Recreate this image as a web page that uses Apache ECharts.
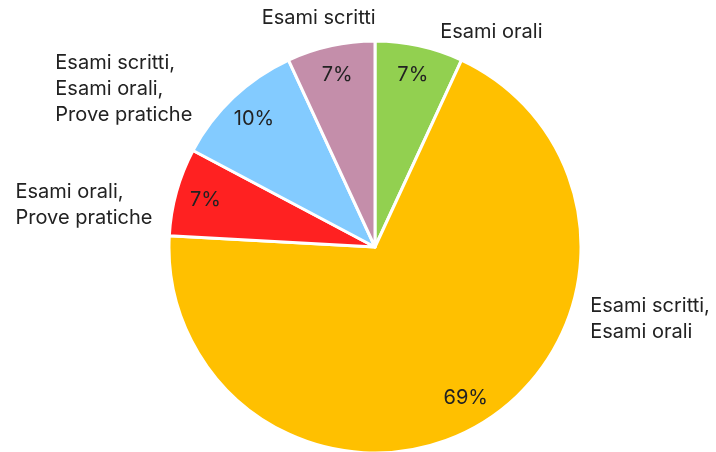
<!DOCTYPE html>
<html>
<head>
<meta charset="utf-8">
<script src="https://cdn.jsdelivr.net/npm/echarts@6/dist/echarts.min.js"></script>
<style>
  html, body { margin: 0; padding: 0; background: #fff; }
  #chart { width: 716px; height: 452px; }
</style>
</head>
<body>
<div id="chart"></div>
<script>
// risposte (conteggi) per modalità d'esame
const categories = [
  "Esami orali",
  "Esami scritti,\nEsami orali",
  "Esami orali,\nProve pratiche",
  "Esami scritti,\nEsami orali,\nProve pratiche",
  "Esami scritti"
];
const counts = [2, 20, 2, 3, 2];
const colors = ["#92D050", "#FFC000", "#FF2121", "#83CBFF", "#C48EAA"];

// spostamento etichette rispetto al bordo della fetta [dx, dy]
const labelOffsets = [[21, -14], [109, -105], [-161, 13], [-178, -8], [-69, -28]];

const center = [375, 247];
const R = 206;
const fontFam = "Inter, 'Noto Sans', sans-serif";

const pieData = categories.map((name, i) => ({
  name: name,
  value: counts[i],
  itemStyle: { color: colors[i] }
}));

const chart = echarts.init(document.getElementById("chart"));
chart.setOption({
  backgroundColor: "#fff",
  animation: false,
  series: [
    {
      // fette + nomi esterni
      type: "pie",
      center: center,
      radius: [0, R],
      startAngle: 90,
      clockwise: true,
      avoidLabelOverlap: false,
      itemStyle: { borderColor: "#fff", borderWidth: 3 },
      label: {
        show: true,
        position: "outside",
        formatter: "{b}",
        color: "#222",
        fontSize: 20,
        lineHeight: 26,
        fontFamily: fontFam,
        align: "left"
      },
      labelLine: { show: true, length: 0, length2: 0, lineStyle: { opacity: 0 } },
      labelLayout: function (p) {
        const pt = p.labelLinePoints ? p.labelLinePoints[0] : [center[0], center[1]];
        const off = labelOffsets[p.dataIndex];
        return { x: pt[0] + off[0], y: pt[1] + off[1], align: "left", verticalAlign: "middle" };
      },
      emphasis: { disabled: true },
      data: pieData
    },
    {
      // percentuali interne
      type: "pie",
      center: center,
      radius: [R * 0.68, R],
      startAngle: 90,
      clockwise: true,
      silent: true,
      itemStyle: { color: "transparent", borderWidth: 0 },
      label: {
        show: true,
        position: "inside",
        formatter: (p) => Math.round(p.percent) + "%",
        color: "#222",
        fontSize: 20,
        fontFamily: fontFam
      },
      labelLine: { show: false },
      emphasis: { disabled: true },
      data: counts.map((v, i) => ({ name: categories[i], value: v }))
    }
  ]
});
</script>
</body>
</html>
